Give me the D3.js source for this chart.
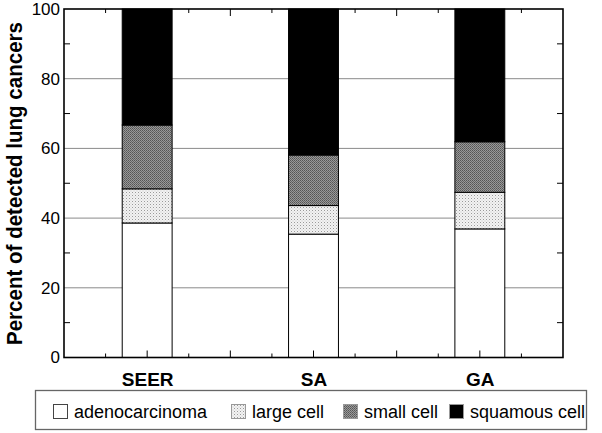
<!DOCTYPE html>
<html><head><meta charset="utf-8">
<script src="https://cdn.jsdelivr.net/npm/d3@7"></script>
<style>body{margin:0;background:#fff}svg{display:block}text{font-family:"Liberation Sans",Arial,sans-serif}</style>
</head><body>
<script>
const categories = ["SEER", "SA", "GA"];
const categoryPos = [1, 3, 5];
const seriesNames = ["adenocarcinoma", "large cell", "small cell", "squamous cell"];
const adenocarcinoma = [38.6, 35.4, 36.9];
const largeCell = [9.8, 8.2, 10.5];
const smallCell = [18.3, 14.5, 14.5];
const squamousCell = [33.3, 41.9, 38.1];
const yTicks = [0, 20, 40, 60, 80, 100];
const yMinorTicks = [10, 30, 50, 70, 90];
const xMajorTicks = [1, 2, 3, 4, 5];
const xMinorTicks = [0.5, 1.5, 2.5, 3.5, 4.5, 5.5];

const W = 602, H = 433;
const svg = d3.select("body").append("svg").attr("width", W).attr("height", H);
const defs = svg.append("defs");
const p1 = defs.append("pattern").attr("id","pLarge").attr("patternUnits","userSpaceOnUse").attr("width",3).attr("height",3);
p1.append("rect").attr("width",3).attr("height",3).attr("fill","#f2f2f2");
p1.append("rect").attr("x",0).attr("y",0).attr("width",1).attr("height",1).attr("fill","#9a9a9a");
p1.append("rect").attr("x",1.5).attr("y",1.5).attr("width",1).attr("height",1).attr("fill","#c8c8c8");
const p2 = defs.append("pattern").attr("id","pSmall").attr("patternUnits","userSpaceOnUse").attr("width",2).attr("height",2);
p2.append("rect").attr("width",2).attr("height",2).attr("fill","#999999");
p2.append("rect").attr("x",0).attr("y",0).attr("width",1).attr("height",1).attr("fill","#555555");
p2.append("rect").attr("x",1).attr("y",1).attr("width",1).attr("height",1).attr("fill","#666666");
const fills = ["#ffffff", "url(#pLarge)", "url(#pSmall)", "#000000"];

const x = d3.scaleLinear().domain([0, 6]).range([64, 563]);
const y = d3.scaleLinear().domain([0, 100]).range([357.5, 9]);
const barW = 0.6;

svg.append("g").selectAll("line").data(yTicks.filter(d => d > 0 && d < 100)).join("line")
  .attr("x1", x(0)).attr("x2", x(6)).attr("y1", d => y(d)).attr("y2", d => y(d))
  .attr("stroke", "#8a8a8a").attr("stroke-width", 1);

const series = [adenocarcinoma, largeCell, smallCell, squamousCell];
const data = categories.map((c, i) => {
  const o = {cat: c, pos: categoryPos[i]};
  seriesNames.forEach((s, k) => o[s] = series[k][i]);
  return o;
});
const stacked = d3.stack().keys(seriesNames)(data);
const gBars = svg.append("g");
stacked.forEach((layer, k) => {
  gBars.append("g").selectAll("rect").data(layer).join("rect")
    .attr("x", d => x(d.data.pos - barW / 2))
    .attr("width", x(barW) - x(0))
    .attr("y", d => y(d[1]))
    .attr("height", d => y(d[0]) - y(d[1]))
    .attr("fill", fills[k])
    .attr("stroke", "#000").attr("stroke-width", 1);
});

const gT = svg.append("g").attr("stroke", "#000").attr("stroke-width", 1);
gT.selectAll(".ml").data(yMinorTicks).join("line").attr("x1", x(0)).attr("x2", x(0) + 6).attr("y1", d => y(d)).attr("y2", d => y(d));
gT.selectAll(".mr").data(yMinorTicks).join("line").attr("x1", x(6)).attr("x2", x(6) - 6).attr("y1", d => y(d)).attr("y2", d => y(d));
gT.selectAll(".bM").data(xMajorTicks).join("line").attr("x1", d => x(d)).attr("x2", d => x(d)).attr("y1", y(0)).attr("y2", y(0) - 7);
gT.selectAll(".bm").data(xMinorTicks).join("line").attr("x1", d => x(d)).attr("x2", d => x(d)).attr("y1", y(0)).attr("y2", y(0) - 4);
gT.selectAll(".tM").data(xMajorTicks).join("line").attr("x1", d => x(d)).attr("x2", d => x(d)).attr("y1", y(100)).attr("y2", y(100) + 7);
gT.selectAll(".tm").data(xMinorTicks).join("line").attr("x1", d => x(d)).attr("x2", d => x(d)).attr("y1", y(100)).attr("y2", y(100) + 4);

svg.append("rect").attr("x", x(0)).attr("y", y(100)).attr("width", x(6) - x(0)).attr("height", y(0) - y(100))
  .attr("fill", "none").attr("stroke", "#000").attr("stroke-width", 1.6);

const yAxis = svg.append("g").attr("transform", `translate(${x(0)},0)`)
  .call(d3.axisLeft(y).tickValues(yTicks).tickSize(0).tickPadding(4));
yAxis.select(".domain").remove();
yAxis.selectAll("text").attr("font-size", 17).attr("fill", "#000").attr("font-family", '"Liberation Sans",Arial,sans-serif');

const xAxis = svg.append("g").attr("transform", `translate(0,${y(0)})`)
  .call(d3.axisBottom(x).tickValues(categoryPos).tickFormat((d, i) => categories[i]).tickSize(0).tickPadding(15));
xAxis.select(".domain").remove();
xAxis.selectAll("text").attr("font-size", 19).attr("font-weight", "bold").attr("fill", "#000").attr("font-family", '"Liberation Sans",Arial,sans-serif');

svg.append("text").attr("transform", `translate(21.5,${183.5}) rotate(-90)`)
  .attr("text-anchor", "middle").attr("font-size", 22).attr("font-weight", "bold")
  .attr("textLength", 323).attr("lengthAdjust", "spacingAndGlyphs")
  .text("Percent of detected lung cancers");

const lg = svg.append("g");
lg.append("rect").attr("x", 35.5).attr("y", 390.5).attr("width", 551).attr("height", 39)
  .attr("fill", "#fff").attr("stroke", "#666").attr("stroke-width", 1.3);
const legX = [53, 231, 343, 449];
seriesNames.forEach((s, k) => {
  lg.append("rect").attr("x", legX[k] + 0.5).attr("y", 404.5).attr("width", 14).attr("height", 14)
    .attr("fill", fills[k]).attr("stroke", k === 0 ? "#444" : "#999").attr("stroke-width", 1);
  lg.append("text").attr("x", legX[k] + 21).attr("y", 418).attr("font-size", 18).text(s);
});
</script>
</body></html>
